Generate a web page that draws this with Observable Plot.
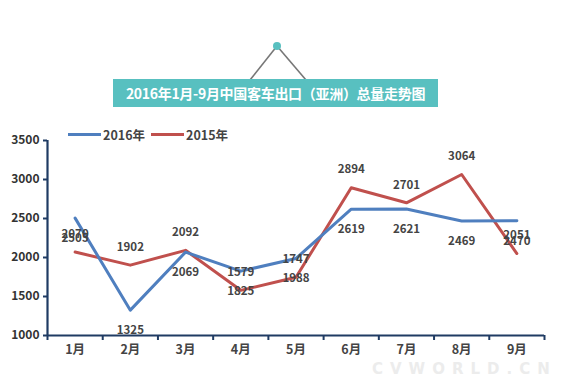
<!DOCTYPE html>
<html><head><meta charset="utf-8">
<script src="https://cdn.jsdelivr.net/npm/d3@7"></script>
<script src="https://cdn.jsdelivr.net/npm/@observablehq/plot@0.6"></script>
<style>
body{margin:0;background:#fff;font-family:"Noto Sans CJK SC","Noto Sans",sans-serif;}
#wrap{position:relative;width:566px;height:387px;overflow:hidden;}
#chart{position:absolute;left:0;top:0;}
#banner{position:absolute;left:113px;top:79px;width:325px;height:28px;background:#58c0c0;color:#fff;font-weight:bold;font-size:14px;line-height:28px;text-align:center;letter-spacing:-0.3px;}
#hanger{position:absolute;left:0;top:0;}
#legend{position:absolute;left:68px;top:125px;font-size:12.5px;color:#444;font-weight:bold;display:flex;align-items:center;}
.sw{display:inline-block;width:33px;height:3px;margin-right:2px;}
#wm{position:absolute;left:372px;top:360px;font-size:15px;line-height:18px;letter-spacing:7px;color:#ececec;font-weight:bold;font-family:"DejaVu Sans",sans-serif;}
</style></head>
<body><div id="wrap">
<div id="chart"></div>
<svg id="hanger" width="566" height="120"><line x1="277" y1="46" x2="250" y2="80" stroke="#777" stroke-width="1.6"/><line x1="277" y1="46" x2="306" y2="80" stroke="#777" stroke-width="1.6"/><circle cx="277" cy="46" r="4" fill="#58c0c0"/></svg>
<div id="banner">2016年1月-9月中国客车出口（亚洲）总量走势图</div>
<div id="legend"><span class="sw" style="background:#4f7fbf"></span><span>2016年</span><span class="sw" style="background:#c0504d;margin-left:6px"></span><span>2015年</span></div>
<div id="wm">CVWORLD.CN</div>
</div>
<script>
const months = ["1月","2月","3月","4月","5月","6月","7月","8月","9月"];
const s2016 = [2505, 1325, 2069, 1825, 1988, 2619, 2621, 2469, 2470];
const s2015 = [2070, 1902, 2092, 1579, 1747, 2894, 2701, 3064, 2051];
const yTicks = [1000, 1500, 2000, 2500, 3000, 3500];

const d16 = months.map((m, i) => ({i: i + 1, v: s2016[i]}));
const d15 = months.map((m, i) => ({i: i + 1, v: s2015[i]}));
const bounds = d3.range(0.5, 9.6, 1);
const axisColor = "#1f3b63";

const chart = Plot.plot({
  width: 566, height: 387,
  marginTop: 140, marginBottom: 52, marginLeft: 47, marginRight: 22,
  style: {fontFamily: "'Noto Sans CJK SC', sans-serif", background: "transparent"},
  x: {type: "linear", domain: [0.5, 9.5], axis: null},
  y: {domain: [1000, 3500], axis: null},
  marks: [
    Plot.axisY({ticks: yTicks, tickSize: 4, tickFormat: () => "", label: null, stroke: axisColor, strokeWidth: 2}),
    Plot.axisY({ticks: yTicks, tickSize: 0, tickPadding: 8, tickFormat: d => String(d), label: null, fontSize: 12, fontWeight: "bold", fill: "#333"}),
    Plot.axisX({ticks: bounds, tickSize: 5, tickFormat: () => "", label: null, stroke: axisColor, strokeWidth: 2}),
    Plot.axisX({ticks: d3.range(1, 10), tickSize: 0, tickPadding: 10, tickFormat: i => months[i - 1], label: null, fontSize: 12.5, fontWeight: "bold", fill: "#444"}),
    Plot.ruleY([1000], {stroke: axisColor, strokeWidth: 2.2}),
    Plot.ruleX([0.5], {stroke: axisColor, strokeWidth: 2.2}),
    Plot.line(d15, {x: "i", y: "v", stroke: "#c0504d", strokeWidth: 3}),
    Plot.line(d16, {x: "i", y: "v", stroke: "#4f7fbf", strokeWidth: 3}),
    Plot.text(d15, {x: "i", y: "v", text: d => String(d.v), dy: -18, fontSize: 11.5, fontWeight: "bold", fill: "#444"}),
    Plot.text(d16, {x: "i", y: "v", text: d => String(d.v), dy: 20, fontSize: 11.5, fontWeight: "bold", fill: "#444"})
  ]
});
document.getElementById("chart").appendChild(chart);
</script>
</body></html>
